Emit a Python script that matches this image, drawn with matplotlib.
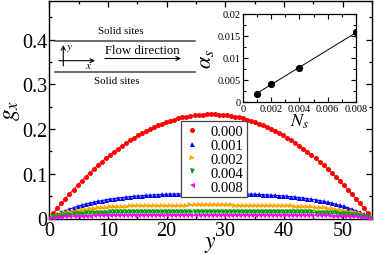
import matplotlib
matplotlib.use('Agg')
import matplotlib.pyplot as plt
from matplotlib.lines import Line2D
from matplotlib.ticker import FixedLocator, MultipleLocator

plt.rcParams['font.family'] = ['Liberation Serif', 'DejaVu Serif']
plt.rcParams['mathtext.fontset'] = 'stix'

# ---------------- data ----------------
y_pos = [0, 0.6875, 1.375, 2.0625, 2.75, 3.4375, 4.125, 4.8125, 5.5, 6.1875, 6.875,
         7.5625, 8.25, 8.9375, 9.625, 10.3125, 11, 11.6875, 12.375, 13.0625, 13.75,
         14.4375, 15.125, 15.8125, 16.5, 17.1875, 17.875, 18.5625, 19.25, 19.9375, 20.625,
         21.3125, 22, 22.6875, 23.375, 24.0625, 24.75, 25.4375, 26.125, 26.8125, 27.5,
         28.1875, 28.875, 29.5625, 30.25, 30.9375, 31.625, 32.3125, 33, 33.6875, 34.375,
         35.0625, 35.75, 36.4375, 37.125, 37.8125, 38.5, 39.1875, 39.875, 40.5625, 41.25,
         41.9375, 42.625, 43.3125, 44, 44.6875, 45.375, 46.0625, 46.75, 47.4375, 48.125,
         48.8125, 49.5, 50.1875, 50.875, 51.5625, 52.25, 52.9375, 53.625, 54.3125, 55]

g_000 = [0, 0.0115, 0.0227, 0.0336, 0.0443, 0.0546, 0.0647, 0.0744, 0.0839, 0.0931, 0.1019,
         0.1105, 0.1188, 0.1268, 0.1346, 0.1420, 0.1491, 0.1560, 0.1625, 0.1688, 0.1748,
         0.1804, 0.1858, 0.1909, 0.1957, 0.2002, 0.2045, 0.2084, 0.2120, 0.2154, 0.2184,
         0.2212, 0.2237, 0.2259, 0.2278, 0.2294, 0.2307, 0.2317, 0.2324, 0.2329, 0.2330,
         0.2329, 0.2324, 0.2317, 0.2307, 0.2294, 0.2278, 0.2259, 0.2237, 0.2212, 0.2184,
         0.2154, 0.2120, 0.2084, 0.2045, 0.2002, 0.1957, 0.1909, 0.1858, 0.1804, 0.1748,
         0.1688, 0.1625, 0.1560, 0.1491, 0.1420, 0.1346, 0.1268, 0.1188, 0.1105, 0.1019,
         0.0931, 0.0839, 0.0744, 0.0647, 0.0546, 0.0443, 0.0336, 0.0227, 0.0115, 0]

g_001 = [0, 0.0049, 0.0094, 0.0136, 0.0174, 0.0208, 0.0240, 0.0270, 0.0296, 0.0321, 0.0344,
         0.0364, 0.0383, 0.0401, 0.0417, 0.0431, 0.0445, 0.0457, 0.0468, 0.0478, 0.0487,
         0.0496, 0.0504, 0.0511, 0.0517, 0.0523, 0.0528, 0.0533, 0.0537, 0.0541, 0.0545,
         0.0548, 0.0550, 0.0552, 0.0554, 0.0556, 0.0557, 0.0558, 0.0559, 0.0559, 0.0560,
         0.0559, 0.0559, 0.0558, 0.0557, 0.0556, 0.0554, 0.0552, 0.0550, 0.0548, 0.0545,
         0.0541, 0.0537, 0.0533, 0.0528, 0.0523, 0.0517, 0.0511, 0.0504, 0.0496, 0.0487,
         0.0478, 0.0468, 0.0457, 0.0445, 0.0431, 0.0417, 0.0401, 0.0383, 0.0364, 0.0344,
         0.0321, 0.0296, 0.0270, 0.0240, 0.0208, 0.0174, 0.0136, 0.0094, 0.0049, 0]

g_002 = [0, 0.0034, 0.0064, 0.0090, 0.0114, 0.0135, 0.0153, 0.0170, 0.0184, 0.0197, 0.0208,
         0.0218, 0.0227, 0.0235, 0.0242, 0.0248, 0.0254, 0.0258, 0.0263, 0.0266, 0.0270,
         0.0273, 0.0275, 0.0278, 0.0280, 0.0281, 0.0283, 0.0284, 0.0286, 0.0287, 0.0288,
         0.0288, 0.0289, 0.0290, 0.0290, 0.0291, 0.0291, 0.0291, 0.0291, 0.0291, 0.0291,
         0.0291, 0.0291, 0.0291, 0.0291, 0.0291, 0.0290, 0.0290, 0.0289, 0.0288, 0.0288,
         0.0287, 0.0286, 0.0284, 0.0283, 0.0281, 0.0280, 0.0278, 0.0275, 0.0273, 0.0270,
         0.0266, 0.0263, 0.0258, 0.0254, 0.0248, 0.0242, 0.0235, 0.0227, 0.0218, 0.0208,
         0.0197, 0.0184, 0.0170, 0.0153, 0.0135, 0.0114, 0.0090, 0.0064, 0.0034, 0]

g_004 = [0, 0.0023, 0.0042, 0.0059, 0.0073, 0.0084, 0.0094, 0.0102, 0.0109, 0.0115, 0.0120,
         0.0124, 0.0127, 0.0130, 0.0133, 0.0135, 0.0137, 0.0138, 0.0139, 0.0140, 0.0141,
         0.0142, 0.0143, 0.0143, 0.0144, 0.0144, 0.0144, 0.0145, 0.0145, 0.0145, 0.0145,
         0.0145, 0.0145, 0.0145, 0.0146, 0.0146, 0.0146, 0.0146, 0.0146, 0.0146, 0.0146,
         0.0146, 0.0146, 0.0146, 0.0146, 0.0146, 0.0146, 0.0145, 0.0145, 0.0145, 0.0145,
         0.0145, 0.0145, 0.0145, 0.0144, 0.0144, 0.0144, 0.0143, 0.0143, 0.0142, 0.0141,
         0.0140, 0.0139, 0.0138, 0.0137, 0.0135, 0.0133, 0.0130, 0.0127, 0.0124, 0.0120,
         0.0115, 0.0109, 0.0102, 0.0094, 0.0084, 0.0073, 0.0059, 0.0042, 0.0023, 0]

g_008 = [0, 0.0016, 0.0028, 0.0038, 0.0045, 0.0051, 0.0056, 0.0060, 0.0063, 0.0065, 0.0067,
         0.0068, 0.0069, 0.0070, 0.0071, 0.0071, 0.0072, 0.0072, 0.0072, 0.0072, 0.0072,
         0.0073, 0.0073, 0.0073, 0.0073, 0.0073, 0.0073, 0.0073, 0.0073, 0.0073, 0.0073,
         0.0073, 0.0073, 0.0073, 0.0073, 0.0073, 0.0073, 0.0073, 0.0073, 0.0073, 0.0073,
         0.0073, 0.0073, 0.0073, 0.0073, 0.0073, 0.0073, 0.0073, 0.0073, 0.0073, 0.0073,
         0.0073, 0.0073, 0.0073, 0.0073, 0.0073, 0.0073, 0.0073, 0.0073, 0.0073, 0.0072,
         0.0072, 0.0072, 0.0072, 0.0072, 0.0071, 0.0071, 0.0070, 0.0069, 0.0068, 0.0067,
         0.0065, 0.0063, 0.0060, 0.0056, 0.0051, 0.0045, 0.0038, 0.0028, 0.0016, 0]

series_labels = ['0.000', '0.001', '0.002', '0.004', '0.008']
series_values = [g_000, g_001, g_002, g_004, g_008]
series_colors = ['#ff0000', '#0000ff', '#ffa500', '#00a000', '#ff00ff']
series_markers = ['o', '^', '>', 'v', '<']
series_msizes = [3.6, 3.6, 3.6, 3.6, 3.6]

x_ticks = [0, 10, 20, 30, 40, 50]
x_ticklabels = ['0', '10', '20', '30', '40', '50']
y_ticks = [0, 0.1, 0.2, 0.3, 0.4]
y_ticklabels = ['0', '0.1', '0.2', '0.3', '0.4']

# inset data
Ns = [0.001, 0.002, 0.004, 0.008]
alpha_s = [0.0018, 0.0041, 0.0077, 0.0158]
fit_Ns = [0.001, 0.008]
fit_alpha = [0.0019, 0.0157]
in_x_ticks = [0, 0.002, 0.004, 0.006, 0.008]
in_x_ticklabels = ['0', '0.002', '0.004', '0.006', '0.008']
in_y_ticks = [0, 0.005, 0.01, 0.015, 0.02]
in_y_ticklabels = ['0', '0.005', '0.01', '0.015', '0.02']

# ---------------- figure ----------------
W, H = 374, 255
fig = plt.figure(figsize=(W / 100, H / 100), dpi=100)


def fx(px):
    return px / W


def fy(py):
    return 1 - py / H


def style_axes(a, lw, maj, mino):
    for s in a.spines.values():
        s.set_linewidth(lw)
    a.tick_params(which='both', direction='in', top=True, right=True, width=lw * 0.9)
    a.tick_params(which='major', length=maj)
    a.tick_params(which='minor', length=mino)


ax = fig.add_axes([fx(49.3), fy(219.5), fx(372) - fx(49.3), fy(1.7) - fy(219.5)])
for vals, col, mk, ms in zip(series_values, series_colors, series_markers, series_msizes):
    ax.plot(y_pos, vals, '-', color=col, lw=0.8, zorder=2)
    ax.plot(y_pos, vals, linestyle='none', marker=mk, color=col, markersize=ms,
            markeredgewidth=0, zorder=3)

ax.set_xlim(0, 55)
ax.set_ylim(0, 0.487)
ax.xaxis.set_major_locator(FixedLocator(x_ticks))
ax.set_xticklabels(x_ticklabels)
ax.yaxis.set_major_locator(FixedLocator(y_ticks))
ax.set_yticklabels(y_ticklabels)
ax.xaxis.set_minor_locator(MultipleLocator(5))
ax.yaxis.set_minor_locator(MultipleLocator(0.05))
style_axes(ax, 1.0, 4.5, 2.5)
ax.tick_params(which='major', labelsize=14.5, pad=1.5)
ax.set_xlabel(r'$y$', fontsize=17, labelpad=-5)
ax.set_ylabel(r'$g_x$', fontsize=17, labelpad=0)

handles = [Line2D([], [], linestyle='none', marker=mk, color=col, markersize=ms,
                  markeredgewidth=0)
           for col, mk, ms in zip(series_colors, series_markers, series_msizes)]
leg = ax.legend(handles, series_labels, loc='upper left', bbox_to_anchor=(0.408, 0.448),
                borderaxespad=0, fontsize=10.5, frameon=True, fancybox=False,
                edgecolor='#444444', framealpha=1, handlelength=1.0, handletextpad=0.8,
                labelspacing=0.05, borderpad=0.25)
leg.get_frame().set_linewidth(0.9)

# ---------------- schematic ----------------
for py in (41.7, 72.7):
    fig.add_artist(Line2D([fx(55), fx(195)], [fy(py), fy(py)], color='#444444', lw=1.1))
fig.text(fx(121), fy(32), 'Solid sites', fontsize=7.8, ha='center', va='center')
fig.text(fx(117), fy(82), 'Solid sites', fontsize=7.8, ha='center', va='center')
fig.text(fx(142), fy(51), 'Flow direction', fontsize=9.2, ha='center', va='center')
arrow_kw = dict(arrowstyle='->', color='black', lw=0.8, shrinkA=0, shrinkB=0,
                mutation_scale=7)
ax.annotate('', xy=(fx(181), fy(59.5)), xytext=(fx(105), fy(59.5)),
            xycoords='figure fraction', textcoords='figure fraction', arrowprops=arrow_kw)
ax.annotate('', xy=(fx(63.3), fy(46)), xytext=(fx(63.3), fy(67)),
            xycoords='figure fraction', textcoords='figure fraction', arrowprops=arrow_kw)
ax.annotate('', xy=(fx(95), fy(61.7)), xytext=(fx(59), fy(61.7)),
            xycoords='figure fraction', textcoords='figure fraction', arrowprops=arrow_kw)
fig.text(fx(69.5), fy(48), r'$y$', fontsize=8, ha='center', va='center')
fig.text(fx(89), fy(66.5), r'$x$', fontsize=8, ha='center', va='center')

# ---------------- inset ----------------
axi = fig.add_axes([fx(242.7), fy(102.7), fx(356) - fx(242.7), fy(14.7) - fy(102.7)])
axi.plot(fit_Ns, fit_alpha, '-', color='black', lw=0.7)
axi.plot(Ns, alpha_s, 'o', color='black', markersize=4.2)
axi.set_xlim(0, 0.008)
axi.set_ylim(0, 0.02)
axi.xaxis.set_major_locator(FixedLocator(in_x_ticks))
axi.set_xticklabels(in_x_ticklabels)
axi.yaxis.set_major_locator(FixedLocator(in_y_ticks))
axi.set_yticklabels(in_y_ticklabels)
axi.xaxis.set_minor_locator(MultipleLocator(0.001))
axi.yaxis.set_minor_locator(MultipleLocator(0.0025))
style_axes(axi, 0.9, 3.5, 2)
axi.tick_params(which='major', labelsize=7.5, pad=1.5)
axi.set_ylabel(r'$\alpha_s$', fontsize=16, labelpad=1)
axi.set_xlabel(r'$N_s$', fontsize=13, labelpad=-1)

fig.savefig('out.png', dpi=100)
